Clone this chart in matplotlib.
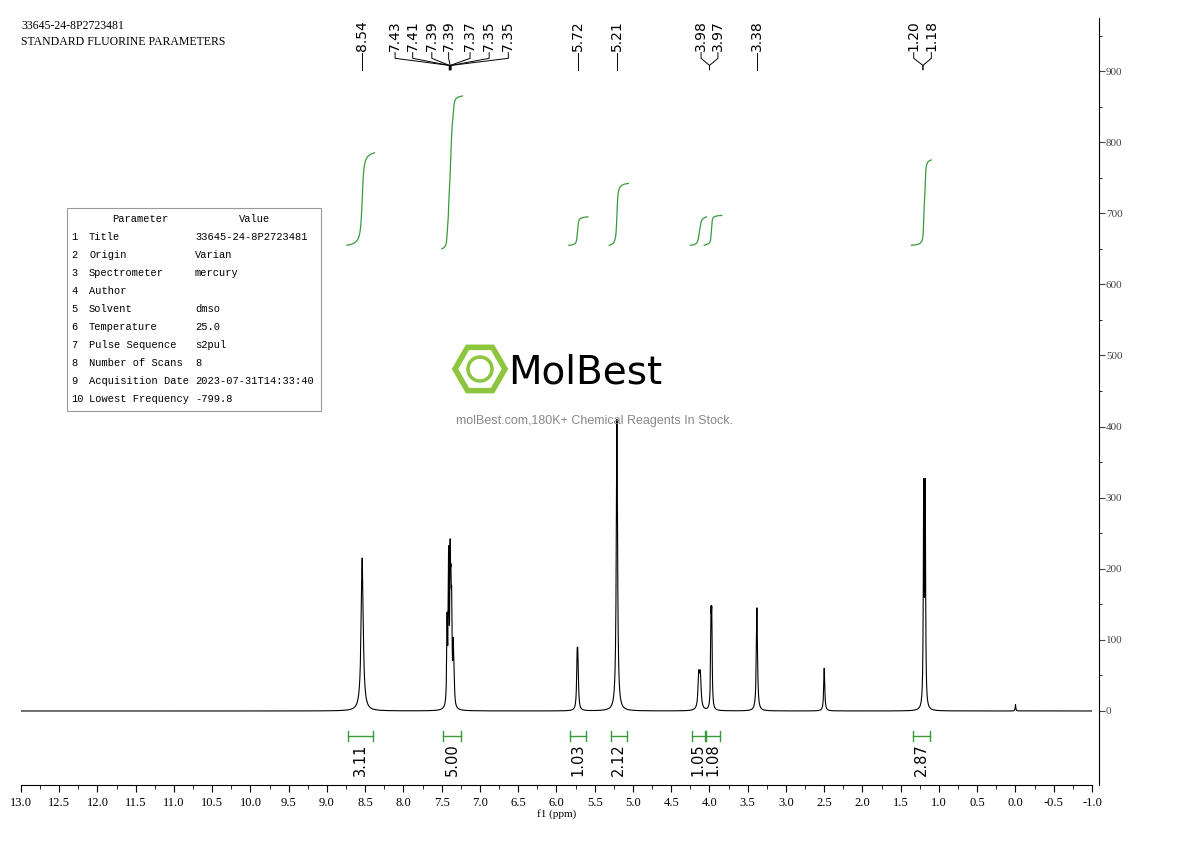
import numpy as np
import matplotlib
matplotlib.use("Agg")
import matplotlib.pyplot as plt
from matplotlib.patches import RegularPolygon, Circle, Rectangle
from matplotlib.ticker import MultipleLocator, FixedLocator

# peaks: position (ppm), height, half width
peak_pos = [8.54, 7.43, 7.41, 7.39, 7.38, 7.37, 7.35, 7.34, 5.73, 5.72, 5.21, 4.14, 4.12, 3.98, 3.97, 3.38, 2.50, 1.20, 1.18, 0.00]
peak_h   = [215, 115, 200, 180, 115, 115, 70, 40, 62, 62, 410, 45, 45, 115, 115, 145, 60, 302, 302, 9]
peak_w   = [0.016, 0.006, 0.006, 0.006, 0.006, 0.006, 0.006, 0.007, 0.008, 0.008, 0.010, 0.012, 0.012, 0.006, 0.006, 0.009, 0.008, 0.006, 0.006, 0.005]

label_text = ["8.54", "7.43", "7.41", "7.39", "7.39", "7.37", "7.35", "7.35", "5.72", "5.21", "3.98", "3.97", "3.38", "1.20", "1.18"]
label_xpos = [8.54, 8.11, 7.88, 7.63, 7.41, 7.13, 6.88, 6.63, 5.72, 5.21, 4.11, 3.89, 3.38, 1.33, 1.10]
label_peak = [8.54, 7.40, 7.40, 7.40, 7.39, 7.39, 7.38, 7.38, 5.72, 5.21, 4.00, 4.00, 3.38, 1.21, 1.21]

int_lo   = [8.40, 7.25, 5.61, 5.08, 4.06, 3.86, 1.12]
int_hi   = [8.72, 7.48, 5.82, 5.29, 4.23, 4.05, 1.34]
int_val  = ["3.11", "5.00", "1.03", "2.12", "1.05", "1.08", "2.87"]
int_base = [655, 650, 655, 655, 655, 655, 655]
int_top  = [785, 865, 695, 742, 695, 697, 775]

table_rows = [("1", "Title", "33645-24-8P2723481"), ("2", "Origin", "Varian"),
              ("3", "Spectrometer", "mercury"), ("4", "Author", ""),
              ("5", "Solvent", "dmso"), ("6", "Temperature", "25.0"),
              ("7", "Pulse Sequence", "s2pul"), ("8", "Number of Scans", "8"),
              ("9", "Acquisition Date", "2023-07-31T14:33:40"),
              ("10", "Lowest Frequency", "-799.8")]

W, H = 1190, 841
fig = plt.figure(figsize=(W/100, H/100), dpi=100)
ax = fig.add_axes([21/W, (H-785)/H, (1092-21)/W, (785-18)/H])
x = np.linspace(-1.0, 13.0, 60000)
y = np.zeros_like(x)
for p, h, w in zip(peak_pos, peak_h, peak_w):
    y += h * w**2 / ((x - p)**2 + w**2)
ax.plot(x, y, color="black", lw=0.8)
ax.set_xlim(13.0, -1.0)
ax.set_ylim(-104.1, 974.7)

serif = "Liberation Serif"
mono = "Liberation Mono"
for s in ["left", "top"]:
    ax.spines[s].set_visible(False)
ax.spines["right"].set_position(("outward", 5))
ax.yaxis.tick_right()
ax.yaxis.set_major_locator(FixedLocator(range(0, 901, 100)))
ax.yaxis.set_minor_locator(FixedLocator(range(50, 951, 100)))
ax.xaxis.set_major_locator(MultipleLocator(0.5))
ax.xaxis.set_minor_locator(MultipleLocator(0.25))
ax.tick_params(axis="y", which="major", length=4, labelsize=8, pad=1, colors="#444444")
ax.tick_params(axis="y", which="minor", length=2)
ax.tick_params(axis="x", which="major", length=5, labelsize=9)
ax.tick_params(axis="x", which="minor", length=3)
ax.xaxis.set_major_formatter(matplotlib.ticker.FuncFormatter(lambda v, p: f"{v:.1f}"))
for lab in ax.get_xticklabels() + ax.get_yticklabels():
    lab.set_fontfamily(serif)
ax.set_xlabel("f1 (ppm)", fontsize=8, fontfamily=serif, labelpad=0)

g = "#3a9a3a"
for lo, hi, b, t in zip(int_lo, int_hi, int_base, int_top):
    m = (x >= lo - 0.02) & (x <= hi + 0.02)
    xs = x[m][::-1]
    ys = y[m][::-1]
    c = np.cumsum(ys)
    c = b + (t - b) * c / c[-1]
    ax.plot(xs, c, color=g, lw=0.9)

for lo, hi, v in zip(int_lo, int_hi, int_val):
    ax.plot([hi, lo], [-35, -35], color=g, lw=1)
    ax.plot([hi, hi], [-42, -28], color=g, lw=1)
    ax.plot([lo, lo], [-42, -28], color=g, lw=1)
    mid = (lo + hi) / 2
    ax.text(mid, -46, v, rotation=90, ha="center", va="top", fontsize=10.5, fontfamily="DejaVu Sans")

for t, lx, pk in zip(label_text, label_xpos, label_peak):
    ax.text(lx, 972, t, rotation=90, ha="center", va="top", fontsize=10, clip_on=False)
    ax.plot([lx, lx, pk, pk], [926, 918, 908, 902], color="black", lw=0.7, clip_on=False)

fig.text(21/W, 1-26/H, "33645-24-8P2723481", fontsize=8.5, fontfamily=serif, va="center")
fig.text(21/W, 1-42/H, "STANDARD FLUORINE PARAMETERS", fontsize=8.5, fontfamily=serif, va="center")

fig.patches.append(Rectangle((67/W, 1-411/H), (321-67)/W, (411-208)/H, transform=fig.transFigure,
                             fill=False, ec="#999999", lw=0.8))
fig.text(140/W, 1-219/H, "Parameter", fontsize=7.5, fontfamily=mono, ha="center", va="center")
fig.text(255/W, 1-219/H, "Value", fontsize=7.5, fontfamily=mono, ha="center", va="center")
for i, (n, k, v) in enumerate(table_rows):
    yy = 1 - (237 + i*18) / H
    fig.text(71/W, yy, n, fontsize=7.5, fontfamily=mono, va="center")
    fig.text(89/W, yy, k, fontsize=7.5, fontfamily=mono, va="center")
    fig.text(195/W, yy, v, fontsize=7.5, fontfamily=mono, va="center")

lax = fig.add_axes([0, 0, 1, 1], facecolor="none")
lax.set_xlim(0, W); lax.set_ylim(H, 0); lax.axis("off")
lax.add_patch(RegularPolygon((480, 369), 6, radius=25, orientation=np.pi/6, fc="none", ec="#8cc63f", lw=4))
lax.add_patch(Circle((480, 369), 12, fc="none", ec="#8cc63f", lw=2.5))
lax.text(508, 372, "MolBest", fontsize=28, fontfamily="DejaVu Sans Condensed", va="center", ha="left", color="black")
lax.text(594, 421, "molBest.com,180K+ Chemical Reagents In Stock.", fontsize=9, fontfamily="Liberation Sans", color="#888888", ha="center", va="center")

fig.savefig("out.png", dpi=100)
